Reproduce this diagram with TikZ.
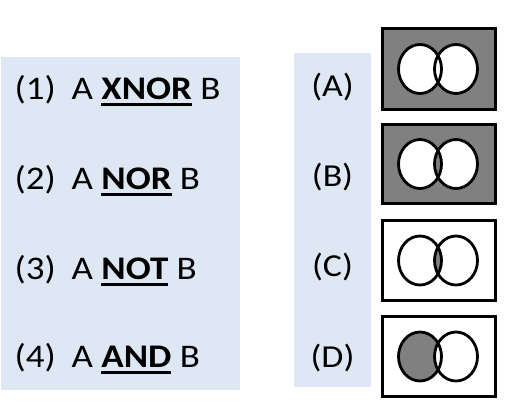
\documentclass[tikz,border=0pt]{standalone}
\usepackage{fontspec}
\setmainfont[FakeStretch=1.12]{Carlito}
\definecolor{panel}{HTML}{DDE8F4}
\definecolor{vgray}{HTML}{808080}
\newcommand{\ulbf}[1]{\setbox0\hbox{\bfseries #1}\rlap{\rule[-6.5pt]{\wd0}{2.5pt}}\box0\relax}
\begin{document}
\begin{tikzpicture}[x=1pt,y=-1pt,
  txt/.style={font=\fontsize{33}{40}\selectfont, inner sep=0pt, anchor=base west},
  lbl/.style={font=\fontsize{32}{38}\selectfont, inner sep=0pt, anchor=base},
  frame/.style={line width=3pt},
  venn/.style={line width=2.8pt},
  lc/.style={x radius=21.5pt, y radius=24.5pt}]
\useasboundingbox (0,0) rectangle (508,410);
\fill[panel] (1,57) rectangle (240,390);
\fill[panel] (294,53) rectangle (371,387);
% left texts
\node[txt] (n1) at (14.5,99) {(1)};
\node[txt] (e1) at (71.5,99) {A \ulbf{XNOR} B};
\node[txt] (n2) at (14.5,189) {(2)};
\node[txt] (e2) at (71.5,189) {A \ulbf{NOR} B};
\node[txt] (n3) at (14.5,279) {(3)};
\node[txt] (e3) at (71.5,279) {A \ulbf{NOT} B};
\node[txt] (n4) at (14.5,367) {(4)};
\node[txt] (e4) at (71.5,367) {A \ulbf{AND} B};
% right labels
\node[lbl] (la) at (332.5,96) {(A)};
\node[lbl] (lb) at (332.5,186) {(B)};
\node[lbl] (lc) at (332.5,276) {(C)};
\node[lbl] (ld) at (332.5,367) {(D)};
% (A) outside only
\begin{scope}[shift={(439,69)}]
  \fill[vgray] (-56.5,-40.5) rectangle (56.5,40.5);
  \fill[white] (-19,0) ellipse [lc] (17,0) ellipse [lc];
  \draw[venn] (-19,0) ellipse [lc] (17,0) ellipse [lc];
  \draw[frame] (-56.5,-40.5) rectangle (56.5,40.5);
\end{scope}
% (B) outside + intersection
\begin{scope}[shift={(439,164)}]
  \fill[vgray] (-56.5,-39.5) rectangle (56.5,39.5);
  \fill[white] (-19,0) ellipse [lc] (17,0) ellipse [lc];
  \begin{scope}
    \clip (-19,0) ellipse [lc];
    \fill[vgray] (17,0) ellipse [lc];
  \end{scope}
  \draw[venn] (-19,0) ellipse [lc] (17,0) ellipse [lc];
  \draw[frame] (-56.5,-39.5) rectangle (56.5,39.5);
\end{scope}
% (C) intersection
\begin{scope}[shift={(439,260.5)}]
  \fill[white] (-56.5,-40) rectangle (56.5,40);
  \begin{scope}
    \clip (-19,0) ellipse [lc];
    \fill[vgray] (17,0) ellipse [lc];
  \end{scope}
  \draw[venn] (-19,0) ellipse [lc] (17,0) ellipse [lc];
  \draw[frame] (-56.5,-40) rectangle (56.5,40);
\end{scope}
% (D) A only
\begin{scope}[shift={(439,356.5)}]
  \fill[white] (-56.5,-40) rectangle (56.5,40);
  \fill[vgray] (-19,0) ellipse [lc];
  \fill[white] (17,0) ellipse [lc];
  \draw[venn] (-19,0) ellipse [lc] (17,0) ellipse [lc];
  \draw[frame] (-56.5,-40) rectangle (56.5,40);
\end{scope}
\end{tikzpicture}
\end{document}
